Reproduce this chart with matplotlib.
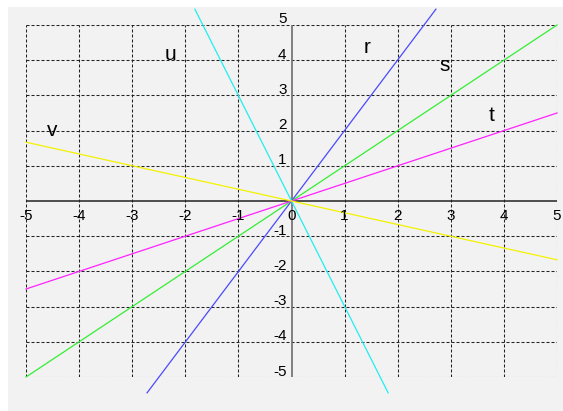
import matplotlib
matplotlib.use("Agg")
import matplotlib.pyplot as plt
from matplotlib.patches import Rectangle
from matplotlib.transforms import offset_copy

# ---- data ----
line_names = ["r", "s", "t", "u", "v"]
line_colors = ["#4a4aff", "#33ee33", "#ff22ff", "#22eeee", "#f2f200"]
line_x = [[-2.72, 2.72], [-5, 5], [-5, 5], [1.82, -1.82], [-5, 5]]
line_y = [[-5.45, 5.45], [-5, 5], [-2.5, 2.5], [-5.45, 5.45], [1.67, -1.67]]
label_x = [1.43, 2.88, 3.76, -2.27, -4.5]
label_y = [4.35, 3.86, 2.44, 4.15, 2.0]
x_ticks = [-5, -4, -3, -2, -1, 0, 1, 2, 3, 4, 5]
y_ticks = [5, 4, 3, 2, 1, -1, -2, -3, -4, -5]

W, H = 563, 411
fig = plt.figure(figsize=(W / 100, H / 100), dpi=100, facecolor="white")
fig.patches.append(Rectangle((8 / W, 0), 1, (H - 7) / H, transform=fig.transFigure,
                             facecolor="#f2f2f2", edgecolor="none", zorder=-10))

ax = fig.add_axes([26 / W, (H - 377) / H, 531 / W, 352 / H])
ax.set_xlim(-5, 5)
ax.set_ylim(-5, 5)
ax.patch.set_alpha(0)
for s in ax.spines.values():
    s.set_visible(False)
ax.set_xticks([])
ax.set_yticks([])

dash = (0, (2.9, 1.9))
for v in x_ticks:
    if v != 0:
        ax.plot([v, v], [-5, 5], color="#222222", lw=0.75, linestyle=dash, zorder=1)
for v in y_ticks:
    ax.plot([-5, 5], [v, v], color="#222222", lw=0.75, linestyle=dash, zorder=1)

ax.plot([-5, 5], [0, 0], color="#222222", lw=1.1, zorder=2)
ax.plot([0, 0], [-5, 5], color="#777777", lw=1.3, zorder=2)

for xs, ys, c in zip(line_x, line_y, line_colors):
    ax.plot(xs, ys, color=c, lw=0.9, clip_on=False, zorder=3)

font = "Liberation Sans"
tx = offset_copy(ax.transData, fig=fig, x=0, y=-19, units="dots")
for v in x_ticks:
    ax.text(v, 0, f"{v}", transform=tx, ha="center", va="baseline",
            fontsize=11, family=font, color="black", zorder=4)
ty = offset_copy(ax.transData, fig=fig, x=-5, y=1.5, units="dots")
for v in y_ticks:
    ax.text(0, v, f"{v}", transform=ty, ha="right", va="baseline",
            fontsize=11, family=font, color="black", zorder=4)

for n, x, y in zip(line_names, label_x, label_y):
    ax.text(x, y, n, ha="center", va="center", fontsize=15, family=font,
            color="black", zorder=4)

fig.savefig("out.png", dpi=100, facecolor=fig.get_facecolor())
